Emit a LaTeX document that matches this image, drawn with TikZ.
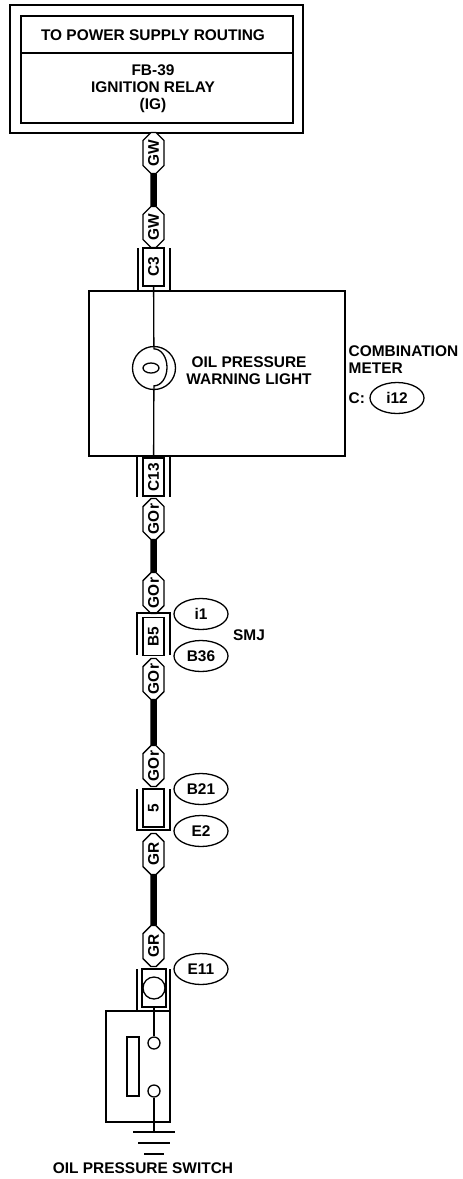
\documentclass[tikz,border=0pt]{standalone}
\usepackage{fontspec}
\setmainfont{Liberation Sans}
\usetikzlibrary{positioning,shapes.misc,shapes.geometric}

\begin{document}
\begin{tikzpicture}[x=1bp,y=-1bp,line width=1.3bp,
   every node/.style={font=\fontsize{15.5}{17}\selectfont\bfseries, inner sep=0pt},
   wirelbl/.style={draw, line width=1.4bp, fill=white, chamfered rectangle,
      chamfered rectangle sep=4bp, rotate=90, minimum width=41bp, minimum height=21bp},
   conn/.style={draw, line width=1.8bp, fill=white, rotate=90,
      minimum width=38bp, minimum height=21bp},
   connid/.style={draw, ellipse, minimum width=54bp, minimum height=31bp},
   harness/.style={line width=6.5bp}]
   \useasboundingbox (0,0) rectangle (463,1179);

   \draw[line width=2bp] (10,5) rectangle (303,133);
   \draw[line width=2bp] (21,16) rectangle (293,123) (21,53) -- (293,53);
   \node (routing) at (153,35) {TO POWER SUPPLY ROUTING};
   \node[align=center] (relay) at (153,89) {FB-39\\IGNITION RELAY\\(IG)};

   \node[wirelbl] (gw_1) at (153.5,153) {GW};
   \node[wirelbl] (gw_2) at (153.5,227) {GW};
   \node[conn] (c3) at (153.5,267) {C3};
   \draw (138,248) -- (138,291) (170,248) -- (170,291);

   \draw (89,291) rectangle (345,456);
   \node[circle, draw, minimum size=43bp] (lamp) at (154,368) {};
   \draw (lamp.north) -- ++(0,3) arc[start angle=-90, end angle=90, x radius=13, y radius=18.5]
         -- (lamp.south);
   \draw ([xshift=-3bp]lamp.center) ellipse[x radius=8, y radius=5];
   \node[align=center] (lamp_txt) at (249,371) {OIL PRESSURE\\WARNING LIGHT};
   \node[align=left, anchor=west] (meter_txt) at (348,360) {COMBINATION\\METER};
   \node[anchor=west] (c_pre) at (348,398) {C:};
   \node[connid] (i12) at (397,398) {i12};

   \node[conn] (c13) at (153.5,477) {C13};
   \draw (137,456) -- (137,497) (170,456) -- (170,497);
   \draw (c3) -- (lamp) (lamp) -- (c13);

   \node[wirelbl] (gor_1) at (153.5,519) {GOr};
   \node[wirelbl] (gor_2) at (153.5,593) {GOr};
   \node[conn] (b5) at (153.5,636.5) {B5};
   \draw (137,655) -- (137,613) -- (170,613) -- (170,655);
   \node[connid] (i1) at (201,614) {i1};
   \node[connid] (b36) at (201,656) {B36};
   \node (smj) at (249,635) {SMJ};

   \node[wirelbl] (gor_3) at (153.5,679) {GOr};
   \node[wirelbl] (gor_4) at (153.5,766) {GOr};
   \node[conn] (j5) at (153.5,808) {5};
   \draw (137,789) -- (137,830) -- (170,830) -- (170,789);
   \node[connid] (b21) at (201,789) {B21};
   \node[connid] (e2) at (201,831) {E2};

   \node[wirelbl] (gr_1) at (153.5,854) {GR};
   \node[wirelbl] (gr_2) at (153.5,946) {GR};
   \node[conn, minimum height=24bp] (e11_box) at (154,988) {};
   \node[circle, draw, minimum size=22bp] (e11_pin) at (e11_box) {};
   \draw (137,969) -- (137,1011) (170,969) -- (170,1011);
   \node[connid] (e11) at (201,969) {E11};

   \path[harness] (gw_1) edge (gw_2) (gor_1) edge (gor_2)
                  (gor_3) edge (gor_4) (gr_1) edge (gr_2);

   \draw (106,1011) rectangle (170,1122);
   \draw (127,1037) rectangle (139,1096);
   \node[circle, draw, minimum size=12bp] (sw_a) at (154,1043) {};
   \node[circle, draw, minimum size=12bp] (sw_b) at (154,1091) {};
   \coordinate (gnd) at (154,1132);
   \draw (e11_box) -- (sw_a) (sw_b) -- (gnd);
   \draw (133,1132) -- (175,1132) (138,1143) -- (170,1143) (144,1154) -- (164,1154);
   \node (sw_txt) at (143,1168) {OIL PRESSURE SWITCH};
\end{tikzpicture}
\end{document}
